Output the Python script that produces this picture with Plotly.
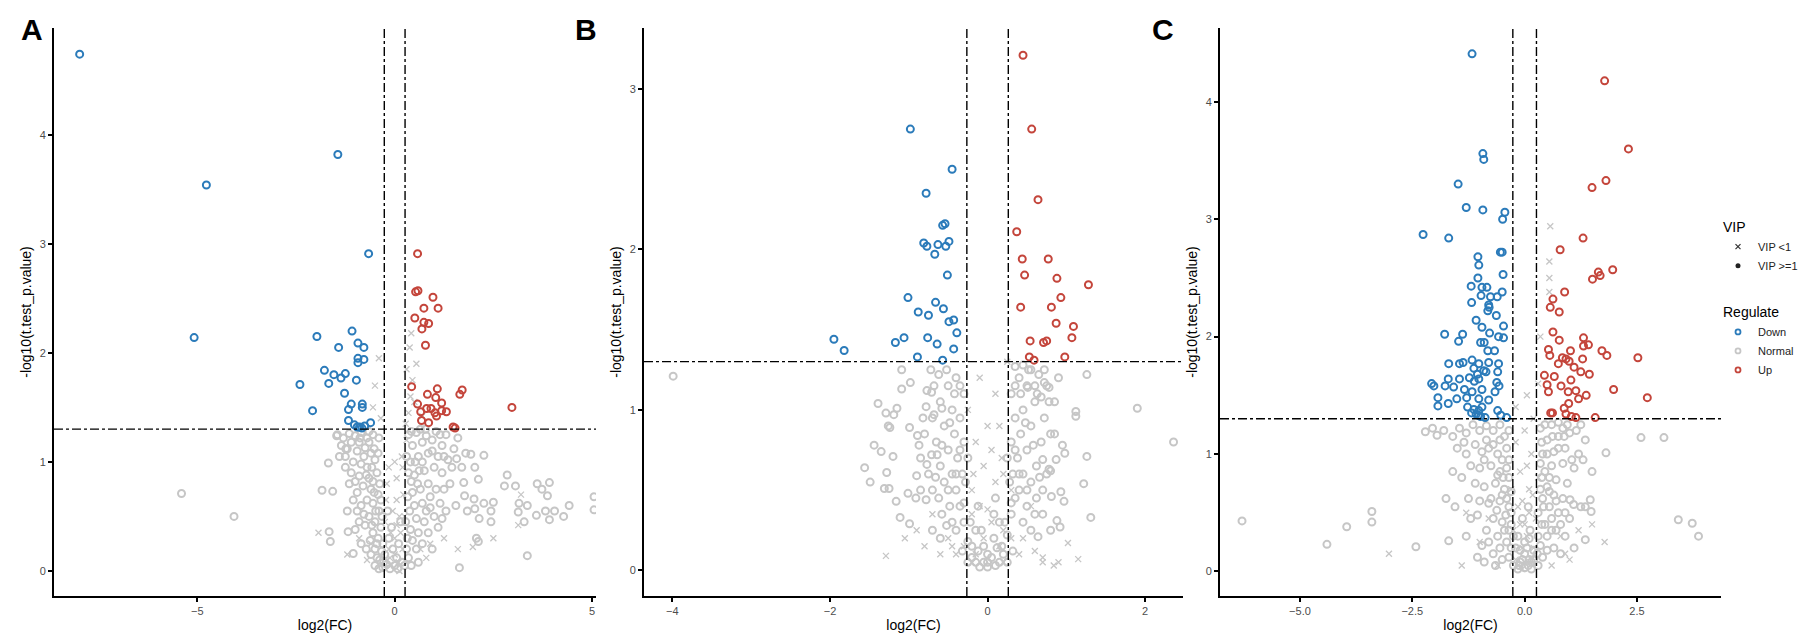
import plotly.graph_objects as go

# ---------------- data (log2(FC), -log10(p)) ----------------
# Panel A
a_down = [(-7.98, 4.74), (-4.77, 3.54), (-1.44, 3.82), (-0.66, 2.91), (-5.08, 2.14), (-1.97, 2.15), (-1.08, 2.20),
          (-1.42, 2.05), (-0.93, 2.09), (-0.78, 2.05), (-0.93, 1.95), (-0.78, 1.94), (-0.93, 1.91), (-1.78, 1.84),
          (-1.54, 1.80), (-1.25, 1.81), (-1.36, 1.77), (-1.67, 1.72), (-0.97, 1.75), (-2.40, 1.71), (-1.27, 1.63),
          (-1.10, 1.53), (-1.17, 1.48), (-0.82, 1.53), (-0.82, 1.50), (-2.08, 1.47), (-1.17, 1.38), (-1.02, 1.34),
          (-0.89, 1.32), (-0.76, 1.33), (-0.61, 1.36), (-0.95, 1.32), (-0.83, 1.31)]
a_up = [(0.58, 2.91), (0.53, 2.56), (0.59, 2.57), (0.97, 2.51), (0.74, 2.41), (1.10, 2.41), (0.51, 2.32), (0.74, 2.28),
        (0.86, 2.27), (0.69, 2.22), (0.78, 2.07), (0.43, 1.69), (1.08, 1.67), (1.71, 1.66), (1.65, 1.62), (0.83, 1.62),
        (1.04, 1.59), (1.19, 1.54), (0.58, 1.53), (0.81, 1.49), (0.92, 1.49), (0.66, 1.46), (1.02, 1.45), (1.19, 1.47),
        (1.31, 1.46), (1.06, 1.42), (0.68, 1.38), (0.86, 1.36), (1.48, 1.32), (1.53, 1.31), (2.97, 1.50)]
a_normal = [(-1.45, 1.25), (-1.3, 1.22), (-1.15, 1.26), (-1.0, 1.24), (-0.85, 1.27), (-0.7, 1.22), (-0.55, 1.25),
            (-1.2, 1.12), (-0.95, 1.1), (-0.75, 1.13), (-0.6, 1.08), (-1.05, 1.0), (-0.85, 0.98), (-0.7, 0.95),
            (-0.5, 1.02), (-1.1, 0.9), (-0.9, 0.87), (-0.65, 0.85), (-0.45, 0.9), (-0.8, 0.78), (-0.6, 0.75),
            (-0.95, 0.72), (-0.42, 0.7), (-0.7, 0.65), (-0.55, 0.62), (-0.85, 0.6), (-0.4, 0.55), (-0.65, 0.5),
            (-0.5, 0.45), (-0.75, 0.42), (-0.35, 0.4), (-0.55, 0.35), (-0.42, 0.3), (-0.3, 0.25), (-0.5, 0.2),
            (-0.25, 0.15), (-0.38, 0.1), (-0.2, 0.06), (-0.3, 0.03), (-0.12, 0.02), (-0.15, 0.3), (-0.05, 0.2),
            (0.05, 0.12), (0.0, 0.05), (0.1, 0.25), (-0.08, 0.4), (0.15, 0.45), (0.08, 0.02), (0.18, 0.08),
            (-0.18, 0.55), (0.25, 0.05), (0.35, 0.12), (0.3, 0.2), (0.45, 0.28), (0.4, 0.38), (0.6, 0.35),
            (0.55, 0.48), (0.75, 0.45), (0.5, 0.6), (0.7, 0.62), (0.9, 0.58), (0.45, 0.72), (0.65, 0.75),
            (0.85, 0.8), (1.05, 0.75), (0.5, 0.88), (0.75, 0.92), (1.0, 0.95), (1.2, 0.9), (0.4, 1.0), (0.6, 1.05),
            (0.85, 1.08), (1.1, 1.05), (1.35, 1.02), (0.45, 1.15), (0.7, 1.18), (0.95, 1.2), (1.2, 1.15), (1.5, 1.12),
            (0.35, 1.25), (0.55, 1.27), (0.8, 1.24), (1.05, 1.28), (1.3, 1.25), (1.6, 1.22), (0.65, 1.3), (0.9, 0.68),
            (1.15, 0.62), (1.3, 0.55), (1.4, 0.8), (-1.35, 1.15), (-1.25, 1.05), (-0.9, 1.18), (-0.65, 1.18),
            (-1.0, 0.82), (-0.78, 0.52), (-0.9, 0.45), (-0.62, 0.28), (-0.72, 0.2), (-0.45, 0.12),
            (-1.4, 1.05), (-1.25, 0.95), (-1.15, 0.8), (-1.05, 0.65), (-1.2, 0.55), (-0.95, 0.55), (-1.0, 0.38),
            (-0.85, 0.25), (-0.6, 0.15), (-0.5, 0.05), (-0.4, 0.02), (-0.28, 0.08), (-0.33, 0.18), (-0.45, 0.25),
            (-0.58, 0.42), (-0.48, 0.55), (-0.35, 0.65), (-0.52, 0.72), (-0.38, 0.8), (-0.55, 0.82), (-0.72, 0.88),
            (-0.58, 0.95), (-0.42, 1.08), (-0.78, 1.05), (-0.52, 1.12), (-0.88, 1.22), (-1.1, 1.18), (-0.65, 1.28),
            (-0.4, 1.22), (-0.32, 0.5), (0.32, 0.3), (0.28, 0.45), (0.38, 0.55), (0.33, 0.68), (0.42, 0.82),
            (0.35, 0.9), (0.58, 0.8), (0.62, 0.92), (0.52, 1.0), (0.7, 1.0), (0.95, 1.1), (0.78, 1.3), (0.42, 1.28),
            (1.15, 1.25), (1.25, 1.05), (0.3, 1.05), (0.55, 0.2), (0.7, 0.25), (0.85, 0.35), (1.0, 0.5), (1.1, 0.4),
            (0.95, 0.2), (0.6, 0.08), (0.42, 0.05), (0.8, 0.55), (1.25, 0.75), (1.45, 0.95), (1.7, 0.95), (1.55, 0.6),
            (1.2, 0.48),
            (2.26, 1.06), (2.85, 0.88), (2.78, 0.78), (3.06, 0.78), (3.61, 0.80), (3.92, 0.81), (3.73, 0.75),
            (3.87, 0.69), (3.36, 0.60), (3.15, 0.62), (3.13, 0.54), (3.59, 0.51), (3.82, 0.55), (4.05, 0.55),
            (4.28, 0.50), (4.42, 0.60), (3.92, 0.47), (3.28, 0.45), (2.44, 0.55), (2.26, 0.62), (2.50, 0.63),
            (2.01, 0.66), (1.77, 0.69), (2.03, 0.57), (2.14, 0.48), (2.44, 0.45), (3.36, 0.14), (1.64, 0.03),
            (2.07, 0.30), (2.12, 0.27), (1.84, 0.55), (1.57, 1.03), (1.93, 1.07), (1.80, 1.08), (2.03, 0.95),
            (2.12, 0.84), (1.75, 0.81), (5.05, 0.68), (5.05, 0.56),
            (-5.40, 0.71), (-4.07, 0.50), (-1.68, 0.99), (-1.84, 0.74), (-1.57, 0.73), (-1.66, 0.36), (-1.63, 0.27),
            (-1.18, 0.36), (-1.05, 0.16), (-1.47, 1.24), (-1.24, 1.12)]
a_lowvip = [(-0.2, 0.1), (0.0, 0.15), (0.2, 0.2), (-0.1, 0.35), (0.12, 0.5), (-0.22, 0.65), (0.22, 0.7), (0.05, 0.85),
            (-0.15, 0.95), (0.18, 1.05), (0.3, 1.2), (0.35, 1.45), (0.4, 1.6), (0.45, 1.75), (0.3, 1.85), (0.55, 1.9),
            (0.38, 2.05), (0.42, 2.18), (-0.55, 1.5), (-0.4, 1.95), (-0.5, 1.7), (-0.6, 0.25), (0.65, 0.2), (0.9, 0.25),
            (-0.9, 0.3), (1.25, 0.3), (-1.93, 0.35), (2.5, 0.3), (1.6, 0.2), (-1.2, 0.15), (0.5, 1.55), (0.7, 1.42),
            (0.28, 1.35), (-0.35, 1.4), (0.8, 0.12), (-0.7, 0.1), (3.13, 0.42), (3.2, 0.7), (1.98, 0.22),
            (-0.1, 0.05), (0.1, 0.08), (0.0, 0.3), (-0.15, 0.2), (0.15, 0.35), (-0.05, 0.55), (0.05, 0.65),
            (-0.2, 0.8), (0.2, 0.95), (0.0, 1.0), (-0.25, 0.45), (0.25, 0.5), (0.12, 0.0), (-0.12, 0.12), (0.05, 0.42)]

# Panel B
b_down = [(-0.98, 2.75), (-0.45, 2.50), (-0.78, 2.35), (-0.57, 2.15), (-0.54, 2.16), (-0.81, 2.04), (-0.77, 2.02),
          (-0.63, 2.03), (-0.53, 2.02), (-0.49, 2.05), (-0.67, 1.97), (-0.51, 1.84), (-1.01, 1.70), (-0.66, 1.67),
          (-0.88, 1.61), (-0.75, 1.59), (-0.56, 1.63), (-0.49, 1.55), (-0.43, 1.56), (-0.39, 1.48), (-1.95, 1.44),
          (-1.82, 1.37), (-1.17, 1.42), (-1.06, 1.45), (-0.76, 1.45), (-0.64, 1.41), (-0.43, 1.38), (-0.89, 1.33),
          (-0.57, 1.31)]
b_up = [(0.45, 3.21), (0.56, 2.75), (0.64, 2.31), (0.37, 2.11), (0.44, 1.94), (0.77, 1.94), (0.47, 1.84), (0.88, 1.82),
        (1.28, 1.78), (0.93, 1.70), (0.42, 1.64), (0.81, 1.64), (0.87, 1.54), (1.09, 1.52), (0.54, 1.43), (0.71, 1.42),
        (0.75, 1.43), (1.07, 1.45), (0.53, 1.33), (0.59, 1.31), (0.98, 1.33)]
b_normal = [(-0.1, 0.02), (0.0, 0.05), (0.1, 0.03), (-0.2, 0.08), (0.2, 0.1), (-0.05, 0.15), (0.08, 0.2), (-0.15, 0.25),
            (0.15, 0.3), (0.0, 0.1), (-0.25, 0.18), (0.25, 0.22), (-0.3, 0.3), (0.3, 0.35), (-0.12, 0.12),
            (0.12, 0.14), (-0.35, 0.4), (0.35, 0.45), (-0.05, 0.05), (0.05, 0.08), (-0.4, 0.5), (-0.45, 0.6),
            (-0.38, 0.7), (-0.5, 0.75), (-0.42, 0.85), (-0.55, 0.9), (-0.45, 1.0), (-0.6, 1.05), (-0.5, 1.15),
            (-0.4, 1.2), (-0.55, 0.55), (-0.6, 0.65), (-0.65, 0.8), (-0.7, 0.95), (-0.35, 0.95), (-0.3, 0.8),
            (-0.32, 0.6), (-0.48, 0.4), (-0.58, 0.35), (-0.7, 0.5), (-0.62, 1.22), (-0.68, 1.15), (-0.3, 1.1),
            (-0.52, 0.28), (-0.4, 0.25), (0.4, 0.5), (0.45, 0.6), (0.38, 0.7), (0.5, 0.75), (0.42, 0.85),
            (0.55, 0.9), (0.45, 1.0), (0.6, 1.05), (0.5, 1.15), (0.4, 1.2), (0.55, 0.55), (0.62, 0.65), (0.68, 0.8),
            (0.72, 0.95), (0.35, 0.95), (0.3, 0.8), (0.32, 0.6), (0.5, 0.4), (0.6, 0.35), (0.7, 0.5), (0.65, 1.22),
            (0.75, 1.15), (0.3, 1.1), (0.8, 0.62), (0.85, 0.85), (0.78, 1.05), (0.9, 1.2), (0.45, 0.3), (0.35, 1.27),
            (0.55, 1.25),
            (-0.25, 0.05), (-0.32, 0.12), (-0.22, 0.3), (-0.3, 0.42), (-0.28, 0.55), (-0.35, 0.75), (-0.25, 0.7),
            (-0.4, 0.6), (-0.48, 0.92), (-0.42, 1.1), (-0.52, 1.25), (-0.35, 1.15), (-0.58, 0.78), (-0.62, 0.45),
            (-0.75, 0.6), (-0.8, 0.85), (-0.72, 1.25), (-0.66, 0.58), (-0.5, 0.5), (-0.45, 0.3), (0.25, 0.05),
            (0.32, 0.12), (0.22, 0.3), (0.3, 0.42), (0.28, 0.55), (0.35, 0.75), (0.25, 0.7), (0.4, 0.6), (0.48, 0.92),
            (0.42, 1.1), (0.52, 1.25), (0.35, 1.15), (0.58, 0.78), (0.62, 0.45), (0.75, 0.6), (0.8, 0.85),
            (0.72, 1.25), (0.66, 0.58), (0.5, 0.5), (0.45, 1.28), (0.6, 1.15), (0.85, 1.05), (0.7, 0.35), (0.8, 0.25),
            (0.55, 0.25), (-0.6, 0.2), (-0.7, 0.25), (-0.15, 0.05), (0.15, 0.05), (0.0, 0.02), (-0.08, 0.25),
            (0.08, 0.35), (-0.12, 0.4), (0.1, 0.45), (-0.2, 0.15), (0.18, 0.15),
            (-3.99, 1.21), (-1.39, 1.04), (-1.29, 0.98), (-1.15, 1.01), (-1.19, 0.97), (-1.09, 1.25), (-1.09, 1.13),
            (-0.98, 1.17), (-1.26, 0.90), (-1.24, 0.89), (-0.99, 0.89), (-1.44, 0.78), (-1.35, 0.74), (-1.56, 0.64),
            (-1.20, 0.71), (-1.28, 0.61), (-1.49, 0.55), (-1.31, 0.51), (-1.25, 0.51), (-1.16, 0.43), (-1.11, 0.33),
            (-0.99, 0.29), (-1.01, 0.48), (-0.91, 0.45), (-0.85, 0.50), (-0.78, 0.44), (-0.90, 0.59), (-0.89, 0.84),
            (-0.87, 0.78), (-0.85, 0.70), (-0.77, 0.66), (-0.71, 0.72), (-0.64, 0.72), (-0.82, 0.95), (-0.78, 1.02),
            (-0.77, 1.12), (-0.71, 1.11), (-0.68, 0.97), (-0.58, 1.01),
            (1.26, 1.22), (1.90, 1.01), (2.36, 0.80), (1.12, 0.99), (1.12, 0.96), (1.26, 0.71), (1.22, 0.54),
            (0.93, 0.49), (0.97, 0.43), (0.81, 0.46), (1.31, 0.33), (0.88, 0.31), (0.92, 0.27), (0.95, 0.78),
            (0.87, 0.69), (0.98, 0.73), (0.70, 0.69), (0.78, 0.63), (0.64, 0.21), (0.78, 1.14), (0.68, 1.08),
            (0.63, 1.10), (0.51, 1.14), (0.72, 1.17)]
b_lowvip = [(-0.8, 0.15), (-0.6, 0.1), (-0.5, 0.2), (0.6, 0.12), (0.7, 0.08), (0.9, 0.05), (-1.29, 0.09), (1.02, 0.17),
            (1.15, 0.07), (0.84, 0.03), (0.7, 0.05), (-0.9, 0.25), (-0.2, 0.5), (0.2, 0.6), (-0.15, 0.8), (0.15, 0.9),
            (0.1, 1.1), (-0.1, 1.2), (0.55, 0.4), (-0.7, 0.35), (0.25, 1.3), (-0.25, 1.0), (0.3, 0.5), (-0.45, 0.15),
            (0.45, 0.2), (-1.05, 0.2), (0.2, 0.25), (-0.2, 0.35),
            (-0.15, 0.1), (0.15, 0.15), (-0.05, 0.2), (0.05, 0.3), (-0.1, 0.4), (0.1, 0.55), (-0.05, 0.65),
            (0.05, 0.75), (0.0, 0.9), (-0.2, 0.05), (0.2, 0.05), (-0.3, 0.15), (0.3, 0.2), (0.0, 0.38), (-0.18, 0.6),
            (0.18, 0.7), (-0.4, 0.1), (0.4, 0.1)]

# Panel C
c_down = [(-1.17, 4.41), (-0.93, 3.56), (-0.91, 3.51), (-1.48, 3.30), (-1.30, 3.10), (-0.93, 3.08), (-0.44, 3.06),
          (-0.49, 3.00), (-2.26, 2.87), (-1.69, 2.84), (-0.54, 2.72), (-0.50, 2.72), (-1.04, 2.68), (-1.02, 2.61),
          (-0.48, 2.53), (-1.04, 2.50), (-1.19, 2.43), (-0.95, 2.42), (-0.84, 2.42), (-0.50, 2.38), (-0.97, 2.35),
          (-0.76, 2.34), (-0.61, 2.34), (-1.18, 2.29), (-0.80, 2.27), (-0.79, 2.25), (-0.82, 2.22), (-0.63, 2.18),
          (-1.08, 2.14), (-0.95, 2.08), (-0.47, 2.09), (-0.78, 2.03), (-1.78, 2.02), (-1.38, 2.02), (-0.58, 2.00),
          (-0.47, 1.99), (-1.47, 1.96), (-0.98, 1.95), (-0.90, 1.95), (-0.82, 1.88), (-0.67, 1.88), (-1.17, 1.80),
          (-1.37, 1.78), (-1.69, 1.77), (-1.45, 1.77), (-1.02, 1.77), (-0.80, 1.78), (-0.58, 1.77), (-1.13, 1.73),
          (-0.91, 1.71), (-0.86, 1.70), (-0.60, 1.70), (-1.23, 1.65), (-1.02, 1.64), (-1.70, 1.64), (-1.45, 1.64),
          (-2.07, 1.60), (-2.02, 1.58), (-1.77, 1.58), (-1.58, 1.57), (-1.34, 1.55), (-1.17, 1.53), (-0.95, 1.55),
          (-0.66, 1.53), (-0.57, 1.58), (-0.62, 1.61), (-1.93, 1.48), (-1.51, 1.47), (-1.29, 1.48), (-1.02, 1.47),
          (-0.80, 1.46), (-1.93, 1.41), (-1.70, 1.43), (-1.27, 1.40), (-1.13, 1.38), (-1.02, 1.37), (-0.95, 1.40),
          (-0.60, 1.37), (-1.03, 1.33), (-0.53, 1.33), (-0.40, 1.31), (-1.18, 1.35), (-1.05, 1.68), (-1.12, 1.62),
          (-1.08, 1.34), (-0.98, 1.32), (-0.88, 1.31)]
c_up = [(1.78, 4.18), (2.31, 3.60), (1.81, 3.33), (1.50, 3.27), (1.30, 2.84), (0.79, 2.74), (1.96, 2.57), (1.64, 2.55),
        (1.68, 2.52), (1.51, 2.49), (0.89, 2.38), (0.63, 2.32), (0.57, 2.25), (0.77, 2.21), (0.63, 2.04), (0.77, 1.97),
        (1.31, 1.99), (1.31, 1.92), (1.42, 1.93), (0.53, 1.89), (1.02, 1.88), (1.72, 1.88), (1.83, 1.84), (2.52, 1.82),
        (0.56, 1.84), (0.84, 1.82), (0.92, 1.81), (0.75, 1.77), (0.99, 1.79), (1.10, 1.74), (1.29, 1.81), (1.25, 1.70),
        (1.44, 1.68), (0.44, 1.67), (0.66, 1.66), (0.50, 1.59), (0.81, 1.58), (1.03, 1.63), (0.53, 1.53), (0.97, 1.53),
        (1.14, 1.54), (1.20, 1.47), (1.37, 1.50), (1.98, 1.55), (2.73, 1.48), (0.98, 1.43), (0.88, 1.39), (0.58, 1.35),
        (0.62, 1.35), (0.92, 1.34), (1.04, 1.32), (1.14, 1.31), (1.57, 1.31)]
c_normal = [(-1.8, 1.2), (-1.6, 1.15), (-1.45, 1.22), (-1.3, 1.18), (-1.15, 1.25), (-1.0, 1.2), (-0.85, 1.24),
            (-0.7, 1.2), (-0.55, 1.25), (-0.45, 1.15), (-1.5, 1.05), (-1.3, 1.0), (-1.1, 1.08), (-0.95, 1.02),
            (-0.8, 1.05), (-0.6, 1.0), (-0.4, 1.05), (-1.2, 0.9), (-1.0, 0.88), (-0.75, 0.9), (-0.55, 0.85),
            (-0.4, 0.88), (-1.6, 0.85), (-1.4, 0.8), (-1.1, 0.75), (-0.9, 0.72), (-0.65, 0.75), (-0.45, 0.7),
            (-1.25, 0.62), (-1.0, 0.6), (-0.8, 0.58), (-0.55, 0.6), (-0.35, 0.55), (-1.05, 0.48), (-0.7, 0.45),
            (-0.5, 0.42), (-0.3, 0.4), (-0.85, 0.35), (-0.6, 0.3), (-0.4, 0.25), (-0.95, 0.22), (-0.7, 0.15),
            (-0.5, 0.1), (-0.35, 0.12), (-0.25, 0.05), (-1.55, 0.55), (-1.75, 0.62), (-1.3, 0.3), (-1.05, 0.12),
            (-0.9, 0.08), (-0.15, 0.02), (0.0, 0.03), (0.15, 0.02), (-0.1, 0.08), (0.1, 0.1), (0.0, 0.15),
            (-0.2, 0.2), (0.2, 0.18), (-0.15, 0.3), (0.12, 0.35), (0.0, 0.25), (-0.05, 0.45), (0.08, 0.55),
            (0.3, 0.05), (0.4, 0.12), (0.35, 0.22), (0.5, 0.3), (0.45, 0.4), (0.6, 0.45), (0.55, 0.55), (0.75, 0.5),
            (0.4, 0.62), (0.65, 0.65), (0.85, 0.62), (0.5, 0.72), (0.7, 0.78), (0.95, 0.75), (0.45, 0.85), (0.6, 0.9),
            (0.85, 0.92), (1.1, 0.88), (0.4, 1.0), (0.65, 1.02), (0.9, 1.05), (1.2, 1.0), (0.5, 1.12), (0.75, 1.15),
            (1.0, 1.18), (0.35, 1.22), (0.6, 1.25), (0.85, 1.22), (1.15, 1.2), (1.35, 1.12), (0.7, 0.35), (0.9, 0.3),
            (1.0, 0.45), (1.25, 0.55), (1.09, 0.57), (1.01, 0.61), (1.46, 0.61), (1.35, 0.55), (1.48, 0.51),
            (1.35, 0.27), (1.1, 0.2), (0.8, 0.15), (1.81, 1.01), (2.59, 1.14), (3.10, 1.14), (3.42, 0.44),
            (3.73, 0.41), (3.87, 0.30), (1.5, 0.85), (1.3, 0.95),
            (-0.3, 0.2), (-0.25, 0.3), (-0.35, 0.35), (-0.3, 0.5), (-0.42, 0.48), (-0.4, 0.62), (-0.3, 0.68),
            (-0.5, 0.65), (-0.35, 0.8), (-0.48, 0.8), (-0.6, 0.82), (-0.5, 0.95), (-0.35, 0.95), (-0.7, 1.08),
            (-0.55, 1.12), (-0.35, 1.2), (-0.85, 1.12), (-0.62, 0.52), (-0.75, 0.62), (-0.45, 0.35), (-0.55, 0.2),
            (-0.8, 0.25), (-0.65, 0.05), (-1.2, 0.45), (-0.9, 0.95), (-1.35, 1.1), (0.28, 0.15), (0.3, 0.3),
            (0.38, 0.4), (0.3, 0.5), (0.42, 0.55), (0.35, 0.7), (0.55, 0.68), (0.38, 0.8), (0.55, 0.8), (0.35, 0.92),
            (0.5, 1.0), (0.75, 1.05), (0.38, 1.1), (0.62, 1.15), (0.88, 1.15), (0.45, 1.25), (0.75, 1.27), (0.6, 0.35),
            (0.5, 0.18), (0.65, 0.2), (0.8, 0.4), (0.9, 0.5), (0.7, 0.6), (1.05, 0.95), (1.25, 1.25), (0.95, 1.25),
            (0.15, 0.08), (-0.05, 0.1), (0.05, 0.2), (-0.1, 0.18), (0.1, 0.28), (-0.12, 0.05), (0.08, 0.05),
            (0.2, 0.1),
            (-6.29, 0.43), (-4.40, 0.23), (-3.96, 0.38), (-3.40, 0.51), (-3.40, 0.42), (-2.42, 0.21), (-1.69, 0.26),
            (-2.21, 1.19), (-1.95, 1.16), (-2.05, 1.22)]
c_lowvip = [(-3.02, 0.15), (1.78, 0.25), (0.1, 0.7), (-0.1, 0.85), (0.15, 1.0), (-0.2, 1.1), (0.2, 1.3), (0.05, 1.5),
            (0.3, 1.6), (0.35, 2.0), (0.55, 2.38), (0.55, 2.5), (0.55, 2.64), (0.57, 2.94), (-0.2, 1.4), (0.9, 0.15),
            (-1.0, 0.25), (-0.6, 0.05), (0.6, 0.05), (1.2, 0.35), (-1.3, 0.5), (0.8, 0.3), (-0.8, 0.45), (1.0, 0.1),
            (-1.4, 0.05), (1.5, 0.4), (-0.3, 0.7), (0.3, 0.8),
            (-0.15, 0.05), (0.15, 0.1), (-0.05, 0.2), (0.05, 0.3), (-0.1, 0.4), (0.1, 0.5), (-0.05, 0.6), (0.05, 0.9),
            (0.0, 1.2), (-0.2, 0.1), (0.2, 0.2), (-0.25, 0.35), (0.25, 0.45), (0.0, 0.4), (-0.15, 0.55),
            (0.18, 0.65), (0.0, 0.08), (-0.05, 0.02)]

# axis settings per panel: x range, y range, x ticks, y ticks
panels = [
    dict(down=a_down, up=a_up, normal=a_normal, lowvip=a_lowvip, xr=[-8.63, 5.1], yr=[-0.23, 4.98],
         xt=[-5, 0, 5], xl=["−5", "0", "5"], yt=[0, 1, 2, 3, 4], dom=[46, 588], letter="A", lx=24),
    dict(down=b_down, up=b_up, normal=b_normal, lowvip=b_lowvip, xr=[-4.36, 2.48], yr=[-0.16, 3.38],
         xt=[-4, -2, 0, 2], xl=["−4", "−2", "0", "2"], yt=[0, 1, 2, 3], dom=[636, 1175], letter="B", lx=578),
    dict(down=c_down, up=c_up, normal=c_normal, lowvip=c_lowvip, xr=[-6.78, 4.37], yr=[-0.21, 4.63],
         xt=[-5, -2.5, 0, 2.5], xl=["−5.0", "−2.5", "0.0", "2.5"], yt=[0, 1, 2, 3, 4], dom=[1212, 1713],
         letter="C", lx=1155),
]

W, H = 1814, 633
TOP, BOTTOM = 20, 588
BLUE, RED, GREY = "#2b7bba", "#c4453b", "#c6c6c6"
FC_CUT, P_CUT = 0.263, 1.301

fig = go.Figure()


def ring(pts, color, xa, ya):
    return go.Scatter(x=[p[0] for p in pts], y=[p[1] for p in pts], mode="markers", xaxis=xa, yaxis=ya,
                      showlegend=False, hoverinfo="skip",
                      marker=dict(symbol="circle-open", size=7, color=color, line=dict(width=2, color=color)))


for i, p in enumerate(panels):
    n = "" if i == 0 else str(i + 1)
    xa, ya = "x" + n, "y" + n
    fig.add_trace(go.Scatter(x=[q[0] for q in p["lowvip"]], y=[q[1] for q in p["lowvip"]], mode="markers",
                             xaxis=xa, yaxis=ya, showlegend=False, hoverinfo="skip",
                             marker=dict(symbol="x-thin-open", size=6, color=GREY, line=dict(width=1.3, color=GREY))))
    fig.add_trace(ring(p["normal"], GREY, xa, ya))
    fig.add_trace(ring(p["down"], BLUE, xa, ya))
    fig.add_trace(ring(p["up"], RED, xa, ya))

    axis_common = dict(showline=True, linecolor="black", linewidth=2, ticks="outside", ticklen=4, tickwidth=1.5,
                       tickcolor="black", showgrid=False, zeroline=False,
                       tickfont=dict(size=11, color="#4d4d4d"), title_font=dict(size=14, color="black"))
    fig.update_layout({
        "xaxis" + n: dict(axis_common, domain=[p["dom"][0] / W, p["dom"][1] / W], range=p["xr"],
                          tickvals=p["xt"], ticktext=p["xl"], anchor=ya,
                          title=dict(text="log2(FC)", standoff=4)),
        "yaxis" + n: dict(axis_common, domain=[1 - BOTTOM / H, 1 - TOP / H], range=p["yr"],
                          tickvals=p["yt"], anchor=xa,
                          title=dict(text="-log10(t.test_p.value)", standoff=5)),
    })

    line = dict(color="black", width=1.4, dash="dashdot")
    for v in (-FC_CUT, FC_CUT):
        fig.add_shape(type="line", xref=xa, yref=ya + " domain", x0=v, x1=v, y0=0, y1=1, line=line)
    fig.add_shape(type="line", xref=xa + " domain", yref=ya, x0=0, x1=1, y0=P_CUT, y1=P_CUT, line=line)

    fig.add_annotation(text="<b>" + p["letter"] + "</b>", xref="paper", yref="paper", x=p["lx"] / W,
                       y=1 - 21 / H, xanchor="center", yanchor="middle", showarrow=False,
                       font=dict(size=30, color="black"))

# legend entries
fig.add_trace(go.Scatter(x=[None], y=[None], mode="markers", name="VIP <1", legendgroup="vip",
                         legendgrouptitle=dict(text="VIP", font=dict(size=14, color="black")),
                         marker=dict(symbol="x-thin-open", size=5, color="#333333",
                                     line=dict(width=1.2, color="#333333"))))
fig.add_trace(go.Scatter(x=[None], y=[None], mode="markers", name="VIP >=1", legendgroup="vip",
                         marker=dict(symbol="circle", size=5, color="#222222")))
for nm, col in (("Down", BLUE), ("Normal", GREY), ("Up", RED)):
    fig.add_trace(go.Scatter(x=[None], y=[None], mode="markers", name=nm, legendgroup="reg",
                             legendgrouptitle=dict(text="Regulate", font=dict(size=14, color="black")),
                             marker=dict(symbol="circle-open", size=5, color=col, line=dict(width=1.8, color=col))))

fig.update_layout(
    width=W, height=H,
    margin=dict(l=0, r=0, t=0, b=0),
    paper_bgcolor="white", plot_bgcolor="white",
    font=dict(family="Liberation Sans, Arial, sans-serif", color="black"),
    legend=dict(x=1710 / W, y=1 - 203 / H, xanchor="left", yanchor="top", tracegroupgap=26,
                font=dict(size=11, color="#222222"), itemsizing="trace", itemwidth=30,
                bgcolor="rgba(0,0,0,0)"),
)

fig.write_html("out.html")
